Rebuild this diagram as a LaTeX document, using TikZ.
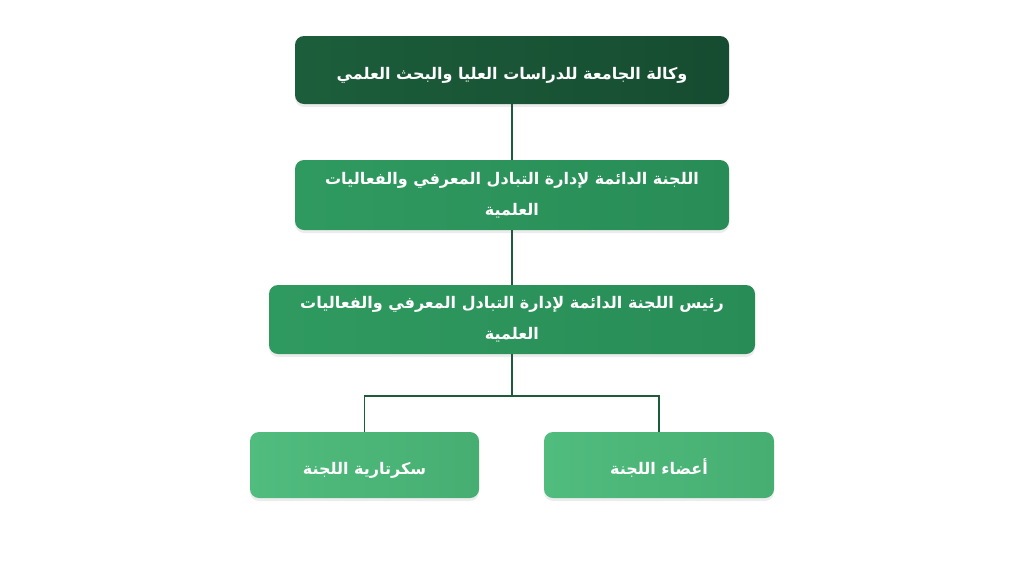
\documentclass[tikz,border=0pt]{standalone}
\usepackage{fontspec}
\newfontfamily\arabicfont[Script=Arabic]{DejaVu Sans}
\TeXXeTstate=1
\usetikzlibrary{shadows}
\definecolor{deanGreen}{HTML}{1C5E3B}
\definecolor{deanGreenB}{HTML}{164C31}
\definecolor{midGreen}{HTML}{2F9A60}
\definecolor{midGreenB}{HTML}{288C56}
\definecolor{leafGreen}{HTML}{50BC7E}
\definecolor{leafGreenB}{HTML}{47AE72}
\definecolor{wireGreen}{HTML}{1F5A3A}

\begin{document}
\begin{tikzpicture}[x=1pt, y=-1pt]

%% styles
\tikzstyle{unit}=[rounded corners=9pt, text=white, align=center,
  font=\arabicfont\bfseries\fontsize{16}{31}\selectfont, inner sep=0pt,
  drop shadow={shadow xshift=0pt, shadow yshift=-3pt, opacity=0.12, fill=black!60}]
\tikzstyle{oneline}=[text height=20pt, text depth=2pt]
\tikzstyle{wire}=[draw=wireGreen, line width=1.6pt]

\useasboundingbox (0,0) rectangle (1024,576);

%% boxes
\node(vice)[style = unit, oneline, minimum width=434pt, minimum height=68pt,
  left color=deanGreen, right color=deanGreenB] at (512, 70)
{
\beginR وكالة الجامعة للدراسات العليا والبحث العلمي\endR
};

\node(committee)[style = unit, minimum width=434pt, minimum height=70pt,
  left color=midGreen, right color=midGreenB] at (512, 195)
{
\beginR اللجنة الدائمة لإدارة التبادل المعرفي والفعاليات\endR\\
\beginR العلمية\endR
};

\node(chair)[style = unit, minimum width=486pt, minimum height=69pt,
  left color=midGreen, right color=midGreenB] at (512, 319.5)
{
\beginR رئيس اللجنة الدائمة لإدارة التبادل المعرفي والفعاليات\endR\\
\beginR العلمية\endR
};

\node(secretariat)[style = unit, oneline, minimum width=229pt, minimum height=66pt,
  left color=leafGreen, right color=leafGreenB] at (364.5, 465)
{
\beginR سكرتارية اللجنة\endR
};

\node(members)[style = unit, oneline, minimum width=230pt, minimum height=66pt,
  left color=leafGreen, right color=leafGreenB] at (659, 465)
{
\beginR أعضاء اللجنة\endR
};

%% lines
\coordinate(fork) at (512, 396);

\path [style = wire] (vice) -- (committee);

\path [style = wire] (committee) -- (chair);

\path [style = wire] (chair) -- (fork);

\path [style = wire] (secretariat.north) |- (fork) -| (members.north);

\end{tikzpicture}
\end{document}
